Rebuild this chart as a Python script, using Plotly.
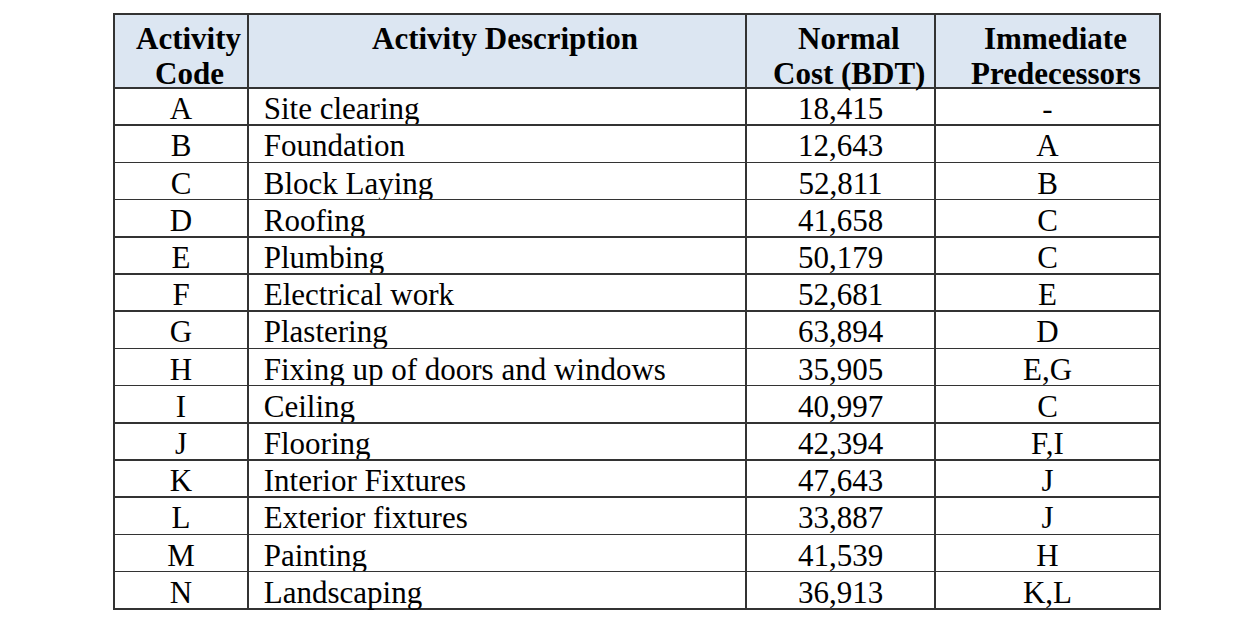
import plotly.graph_objects as go

codes = ["A", "B", "C", "D", "E", "F", "G", "H", "I", "J", "K", "L", "M", "N"]
descriptions = ["Site clearing", "Foundation", "Block Laying", "Roofing", "Plumbing",
                "Electrical work", "Plastering", "Fixing up of doors and windows",
                "Ceiling", "Flooring", "Interior Fixtures", "Exterior fixtures",
                "Painting", "Landscaping"]
costs = [18415, 12643, 52811, 41658, 50179, 52681, 63894, 35905, 40997, 42394,
         47643, 33887, 41539, 36913]
predecessors = ["-", "A", "B", "C", "C", "E", "D", "E,G", "C", "F,I", "J", "J", "H", "K,L"]
header_lines = [["Activity", "Code"], ["Activity Description"], ["Normal", "Cost (BDT)"],
                ["Immediate", "Predecessors"]]

W, H = 1245, 634
col_w = [134, 498, 189, 225]
left, top = 114, 14
off = 8  # plotly table internal offset
FONT = "Liberation Serif"
FS = 31

fig = go.Figure(go.Table(
    columnwidth=col_w,
    header=dict(
        values=["" for _ in header_lines],
        fill_color="#dce6f2",
        line=dict(color="#333333", width=1.5),
        align="center",
        font=dict(family=FONT, size=FS, color="#000000"),
        height=74,
    ),
    cells=dict(
        values=[codes, ["\u00a0" + d for d in descriptions],
                [f"{c:,}" for c in costs], predecessors],
        fill_color="#ffffff",
        line=dict(color="#333333", width=1.5),
        align=["center", "left", "center", "center"],
        font=dict(family=FONT, size=FS, color="#000000"),
        height=37.2,
    ),
    domain=dict(x=[(left - off) / W, (left - off + sum(col_w)) / W],
                y=[0, 1 - (top - off) / H]),
))

# header text as centered annotations (one per line)
x0 = left
line_y = [30, 65]
for w, lines in zip(col_w, header_lines):
    cx = x0 + w / 2
    for i, t in enumerate(lines):
        fig.add_annotation(
            x=cx / W, y=1 - line_y[i] / H, xref="paper", yref="paper",
            text=f"<b>{t}</b>", showarrow=False, xanchor="center", yanchor="middle",
            font=dict(family=FONT, size=FS, color="#000000"),
        )
    x0 += w

fig.update_layout(
    width=W, height=H,
    margin=dict(l=0, r=0, t=0, b=0),
    paper_bgcolor="#ffffff",
)

fig.write_html("out.html")
